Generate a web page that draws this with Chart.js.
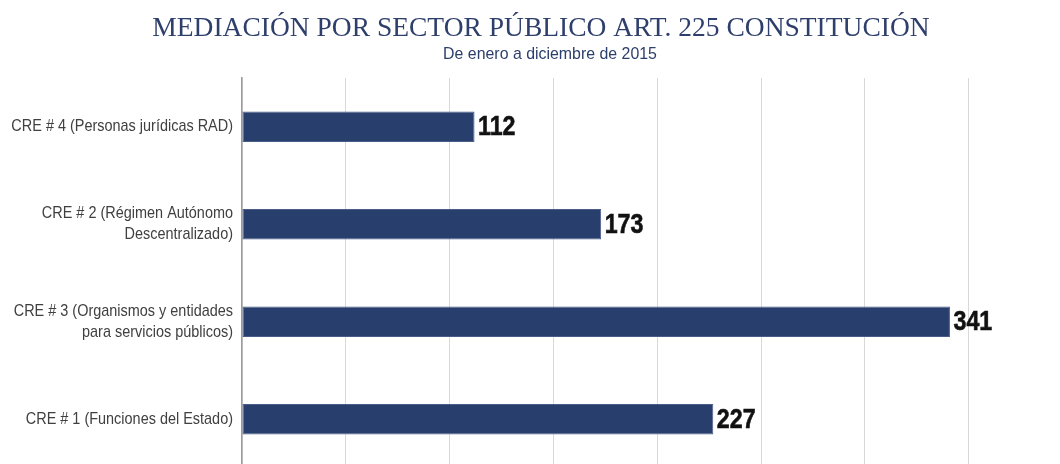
<!DOCTYPE html>
<html lang="es">
<head>
<meta charset="utf-8">
<title>Mediación por sector público</title>
<script src="https://cdn.jsdelivr.net/npm/chart.js@4.4.1/dist/chart.umd.min.js"></script>
<style>
  html, body { margin: 0; padding: 0; background: #fff; overflow: hidden; }
  #wrap { position: relative; width: 1060px; height: 470px; }
</style>
</head>
<body>
<div id="wrap"><canvas id="mediacionChart"></canvas></div>
<script>
// Sectors, top to bottom, as they appear on the axis
const sectores = [
    ['CRE # 4 (Personas jurídicas RAD)'],
    ['CRE # 2 (Régimen Autónomo', 'Descentralizado)'],
    ['CRE # 3 (Organismos y entidades', 'para servicios públicos)'],
    ['CRE # 1 (Funciones del Estado)']
];
const casos = [112, 173, 341, 227];

const titulo = 'MEDIACIÓN POR SECTOR PÚBLICO ART. 225 CONSTITUCIÓN';
const subtitulo = 'De enero a diciembre de 2015';

const SANS = '"Liberation Sans", Arial, sans-serif';
const NAVY = '#283e6c';

// no narrow face is installed, so squeeze the sans horizontally instead
function fillNarrow(ctx, text, x, y, squeeze, align, stroke) {
    ctx.save();
    ctx.translate(x, y);
    ctx.scale(squeeze, 1);
    ctx.textAlign = align;
    ctx.fillText(text, 0, 0);
    if (stroke) {
        ctx.strokeStyle = ctx.fillStyle;
        ctx.lineWidth = stroke;
        ctx.strokeText(text, 0, 0);
    }
    ctx.restore();
}

const narrowText = {
    id: 'narrowText',
    afterDatasetsDraw(chart) {
        const ctx = chart.ctx;
        const area = chart.chartArea;
        const yScale = chart.scales.y;
        ctx.save();
        ctx.textBaseline = 'middle';

        // subtitle under the main title
        ctx.font = '17px ' + SANS;
        ctx.fillStyle = '#2c3e6b';
        fillNarrow(ctx, subtitulo, 550, 54, 0.935, 'center');

        // category names, right aligned against the axis
        ctx.font = '17px ' + SANS;
        ctx.fillStyle = '#404040';
        const lineH = 21;
        sectores.forEach((lines, i) => {
            const yc = yScale.getPixelForTick(i);
            const top = yc - (lines.length - 1) * lineH / 2;
            lines.forEach((line, j) => {
                fillNarrow(ctx, line, area.left - 9, top + j * lineH, 0.85, 'right');
            });
        });

        // counts just past the end of each bar
        ctx.font = 'bold 28px ' + SANS;
        ctx.fillStyle = '#111';
        chart.getDatasetMeta(0).data.forEach((bar, i) => {
            fillNarrow(ctx, String(casos[i]), bar.x + 3.5, bar.y + 1, 0.83, 'left', 0.6);
        });
        ctx.restore();
    }
};

const ctx = document.getElementById('mediacionChart').getContext('2d');
const mediacionChart = new Chart(ctx, {
    type: 'bar',
    data: {
        labels: sectores,
        datasets: [{
            data: casos,
            backgroundColor: NAVY,
            borderColor: '#4a5d88',
            borderWidth: 1,
            borderSkipped: false,
            barPercentage: 0.315,
            categoryPercentage: 1
        }]
    },
    options: {
        indexAxis: 'y',
        responsive: true,
        maintainAspectRatio: false,
        animation: false,
        layout: { padding: { left: 22, right: 0, top: 0, bottom: 2 } },
        plugins: {
            legend: { display: false },
            tooltip: { enabled: false },
            title: {
                display: true,
                text: titulo,
                color: '#2f3f6c',
                font: { family: '"Liberation Serif", "Times New Roman", serif', size: 27.5, weight: 'normal', lineHeight: 1.2 },
                padding: { top: 12, bottom: 33 }
            }
        },
        scales: {
            x: {
                min: 0,
                max: 394,
                ticks: { display: false, stepSize: 50 },
                grid: {
                    drawTicks: false,
                    color: c => (c.tick && c.tick.value % 50 === 0) ? '#d8d8d8' : 'rgba(0,0,0,0)'
                },
                border: { display: false }
            },
            y: {
                afterFit(scale) { scale.width = 220; },
                ticks: { display: false },
                grid: { display: false, drawTicks: false },
                border: { display: true, color: '#9c9c9c', width: 1.5 }
            }
        }
    },
    plugins: [narrowText]
});
</script>
</body>
</html>
